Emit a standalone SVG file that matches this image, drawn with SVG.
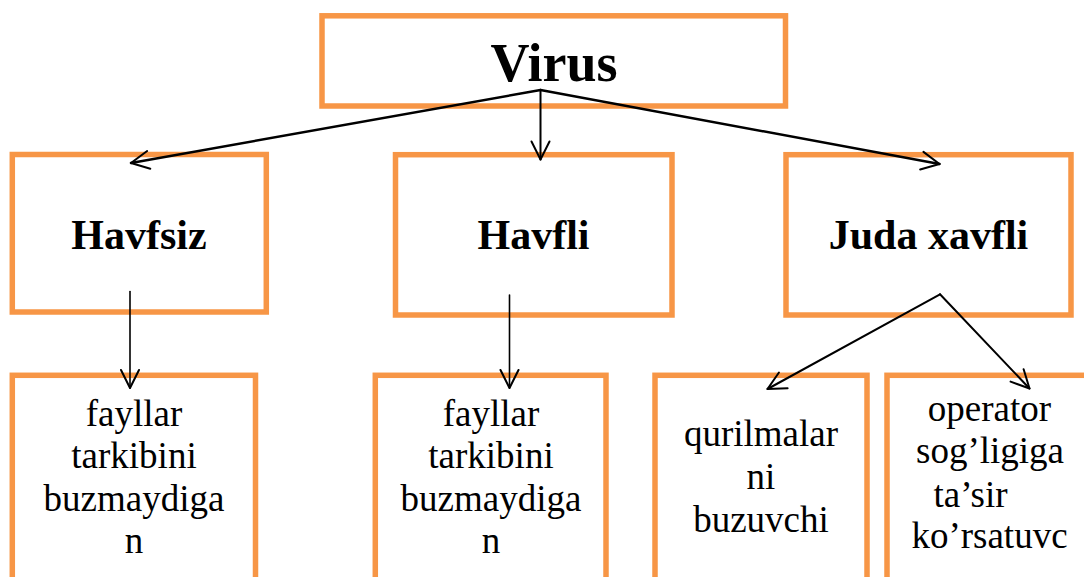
<svg xmlns="http://www.w3.org/2000/svg" width="1084" height="577" viewBox="0 0 1084 577">
<style>
.box{fill:#fff;stroke:#F79646;stroke-width:5.5}
.title{font-family:"Liberation Serif","Times New Roman",serif;font-weight:bold;fill:#000;text-anchor:middle}
.body{font-family:"Liberation Serif","Times New Roman",serif;font-size:37px;fill:#000;text-anchor:middle}
.conn{fill:none;stroke:#000;stroke-linecap:round}
</style>
<defs>
<marker id="arr" markerUnits="userSpaceOnUse" viewBox="-22 -12 26 24" markerWidth="26" markerHeight="24" refX="0" refY="0" orient="auto">
<path d="M-18,-9 L0,0 L-18,9" fill="none" stroke="#000" stroke-width="2" stroke-linecap="round" stroke-linejoin="round"/>
</marker>
</defs>
<rect width="1084" height="577" fill="#fff"/>
<g id="node-virus">
<rect class="box" x="322" y="15.8" width="463.5" height="90.2"/>
<text class="title" x="554" y="81" font-size="54">Virus</text>
</g>
<g id="node-havfsiz">
<rect class="box" x="12.3" y="154.5" width="254" height="157.5"/>
<text class="title" x="139" y="249" font-size="42">Havfsiz</text>
</g>
<g id="node-havfli">
<rect class="box" x="395.5" y="154.7" width="276.5" height="160.3"/>
<text class="title" x="533.5" y="249" font-size="42">Havfli</text>
</g>
<g id="node-juda">
<rect class="box" x="786" y="154.7" width="285" height="160.3"/>
<text class="title" x="928.5" y="249" font-size="42">Juda xavfli</text>
</g>
<g id="node-fayllar1">
<rect class="box" x="12.3" y="375.3" width="243.2" height="230"/>
<text class="body" x="134"><tspan x="134" y="425.7">fayllar</tspan><tspan x="134" y="468.3">tarkibini</tspan><tspan x="134" y="510.7">buzmaydiga</tspan><tspan x="134" y="553.3">n</tspan></text>
</g>
<g id="node-fayllar2">
<rect class="box" x="375.3" y="375.3" width="230.7" height="230"/>
<text class="body" x="491"><tspan x="491" y="425.7">fayllar</tspan><tspan x="491" y="468.3">tarkibini</tspan><tspan x="491" y="510.7">buzmaydiga</tspan><tspan x="491" y="553.3">n</tspan></text>
</g>
<g id="node-qurilmalar">
<rect class="box" x="655" y="375.3" width="212" height="230"/>
<text class="body" x="761"><tspan x="761" y="445.7">qurilmalar</tspan><tspan x="761" y="489">ni</tspan><tspan x="761" y="532.3">buzuvchi</tspan></text>
</g>
<g id="node-operator">
<rect class="box" x="887" y="375.3" width="220" height="230"/>
<text class="body" x="989.5"><tspan x="989.5" y="420.7">operator</tspan><tspan x="990" y="463.3">sog’ligiga</tspan><tspan x="970.5" y="506.7">ta’sir</tspan><tspan x="989.5" y="548.3">ko’rsatuvc</tspan></text>
</g>
<g id="connectors">
<path class="conn" stroke-width="2.5" d="M540.5,90 L131,163" marker-end="url(#arr)"/>
<path class="conn" stroke-width="2" d="M540.5,90 L540.5,159.5" marker-end="url(#arr)"/>
<path class="conn" stroke-width="2.5" d="M540.5,90 L939.5,164" marker-end="url(#arr)"/>
<path class="conn" stroke-width="1.6" d="M130,291.5 L130,388" marker-end="url(#arr)"/>
<path class="conn" stroke-width="1.6" d="M509.5,295 L509.5,388" marker-end="url(#arr)"/>
<path class="conn" stroke-width="2" d="M940,294.3 L767.5,389" marker-end="url(#arr)"/>
<path class="conn" stroke-width="2" d="M940,294.3 L1029.5,388.5" marker-end="url(#arr)"/>
</g>
</svg>
